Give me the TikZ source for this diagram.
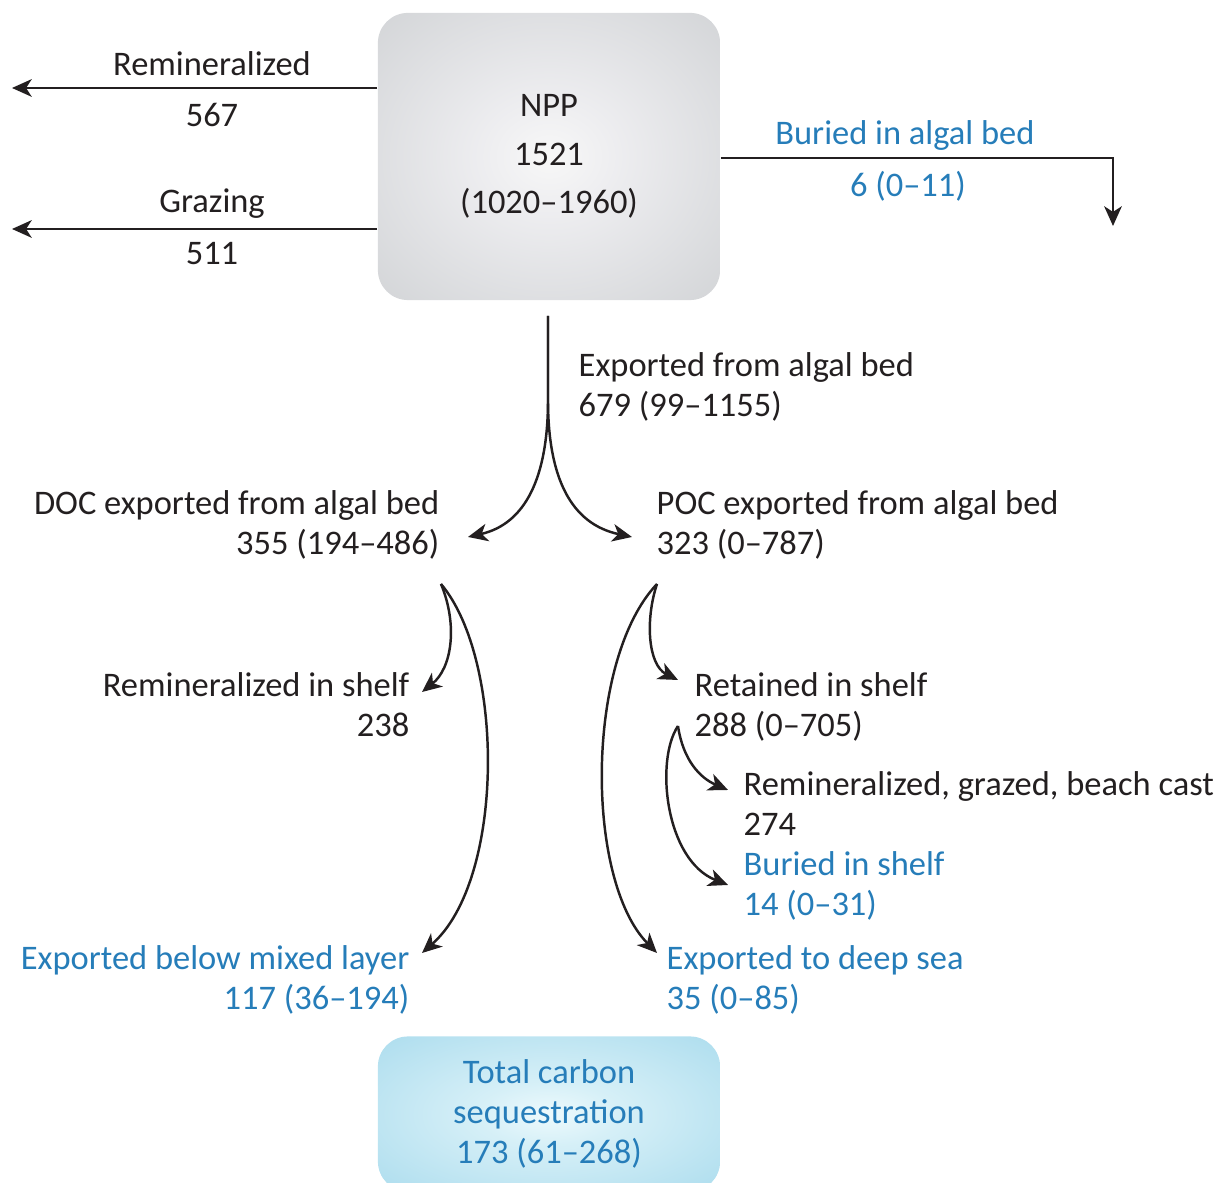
\documentclass[tikz,border=0pt]{standalone}
\usepackage{fontspec}
\setmainfont{Carlito}
\usepackage{xcolor}
\usepackage{tikz}
\usetikzlibrary{arrows.meta}

\definecolor{inktext}{RGB}{35,31,32}
\definecolor{seablue}{RGB}{38,125,185}
\pgfdeclareradialshading{nppglow}{\pgfpoint{0bp}{0bp}}{rgb(0bp)=(0.97,0.97,0.97);rgb(10bp)=(0.93,0.93,0.94);rgb(45bp)=(0.79,0.80,0.81);rgb(80bp)=(0.78,0.79,0.80)}
\pgfdeclareradialshading{seqglow}{\pgfpoint{0bp}{0bp}}{rgb(0bp)=(0.93,0.98,0.99);rgb(10bp)=(0.84,0.94,0.97);rgb(45bp)=(0.62,0.84,0.92);rgb(80bp)=(0.60,0.83,0.91)}

\tikzset{
  flow/.style={draw=inktext, line width=0.7pt, ->},
  lbl/.style={inner sep=0pt, text=inktext},
  bluelbl/.style={lbl, text=seablue},
  pool/.style={rounded corners=0.3cm, minimum width=3.42cm, inner sep=0pt, align=center, shade},
}

\begin{document}
\begin{tikzpicture}[x=0.01cm, y=-0.01cm, font=\fontsize{9.8}{11.4}\selectfont,
  >={Stealth[length=5.6pt,width=5pt,inset=1.6pt]}]
	\useasboundingbox (0,0) rectangle (1217,1183);
	% pools
	\node[pool, minimum height=2.87cm, shading=nppglow, text=inktext,
	  font=\fontsize{9.8}{13.8}\selectfont] (npp) at (549,156.5) {NPP\\1521\\(1020--1960)};
	\node[pool, minimum height=1.55cm, shading=seqglow, text=seablue] (seq) at (549,1114)
	  {Total carbon\\sequestration\\173 (61--268)};
	%
	% labels
	\node[lbl, anchor=base] (reminLbl) at (212,76) {Remineralized};
	\node[lbl, anchor=base] (reminVal) at (212,127) {567};
	\node[lbl, anchor=base] (grazLbl) at (212,213) {Grazing};
	\node[lbl, anchor=base] (grazVal) at (212,265) {511};
	\node[bluelbl, anchor=base] (buriedLbl) at (905,145) {Buried in algal bed};
	\node[bluelbl, anchor=base] (buriedVal) at (908,197) {6 (0--11)};
	\node[lbl, anchor=base west, align=left] (export) at (578,417) {Exported from algal bed\\679 (99--1155)};
	\node[lbl, anchor=base east, align=right] (doc) at (440,555) {DOC exported from algal bed\\355 (194--486)};
	\node[lbl, anchor=base west, align=left] (poc) at (656,555) {POC exported from algal bed\\323 (0--787)};
	\node[lbl, anchor=base east, align=right] (reminShelf) at (410,737) {Remineralized in shelf\\238};
	\node[lbl, anchor=base west, align=left] (retained) at (694,737) {Retained in shelf\\288 (0--705)};
	\node[lbl, anchor=base west, align=left] (beachCast) at (743,836) {Remineralized, grazed, beach cast\\274};
	\node[bluelbl, anchor=base west, align=left] (buriedShelf) at (743,916) {Buried in shelf\\14 (0--31)};
	\node[bluelbl, anchor=base east, align=right] (belowMixed) at (410,1010) {Exported below mixed layer\\117 (36--194)};
	\node[bluelbl, anchor=base west, align=left] (deepSea) at (666,1010) {Exported to deep sea\\35 (0--85)};
	%
	% arrow ends
	\coordinate (reminEnd) at (12,88);
	\coordinate (grazEnd) at (12,229);
	\coordinate (buriedEnd) at (1113,226);
	\coordinate (exportTop) at (548,316);
	\coordinate (split) at (548,400);
	\coordinate (docTip) at (468,537);
	\coordinate (pocTip) at (632,537);
	\coordinate (docOut) at (441,584);
	\coordinate (shelfTip) at (422,692);
	\coordinate (mixedTip) at (422,953);
	\coordinate (pocOut) at (657,584);
	\coordinate (retTip) at (678,680);
	\coordinate (deepTip) at (657,953);
	\coordinate (retOut) at (678,726);
	\coordinate (castTip) at (728,790);
	\coordinate (burTip) at (728,885);
	%
	% straight arrows
	\draw[flow] (npp.west |- reminEnd) -- (reminEnd);
	\draw[flow] (npp.west |- grazEnd) -- (grazEnd);
	\draw[flow] (npp.east |- 0,158) -| (buriedEnd);
	% curved arrows
	\draw[flow] (exportTop) -- (split) .. controls (548,478) and (525,524) .. (docTip);
	\draw[flow] (exportTop) -- (split) .. controls (548,478) and (571,524) .. (pocTip);
	\draw[flow] (docOut) .. controls (458,625) and (452,668) .. (shelfTip);
	\draw[flow] (docOut) .. controls (505,660) and (505,880) .. (mixedTip);
	\draw[flow] (pocOut) .. controls (645,620) and (648,665) .. (retTip);
	\draw[flow] (pocOut) .. controls (585,660) and (585,880) .. (deepTip);
	\draw[flow] (retOut) .. controls (683,760) and (700,778) .. (castTip);
	\draw[flow] (retOut) .. controls (655,760) and (665,860) .. (burTip);
\end{tikzpicture}
\end{document}
